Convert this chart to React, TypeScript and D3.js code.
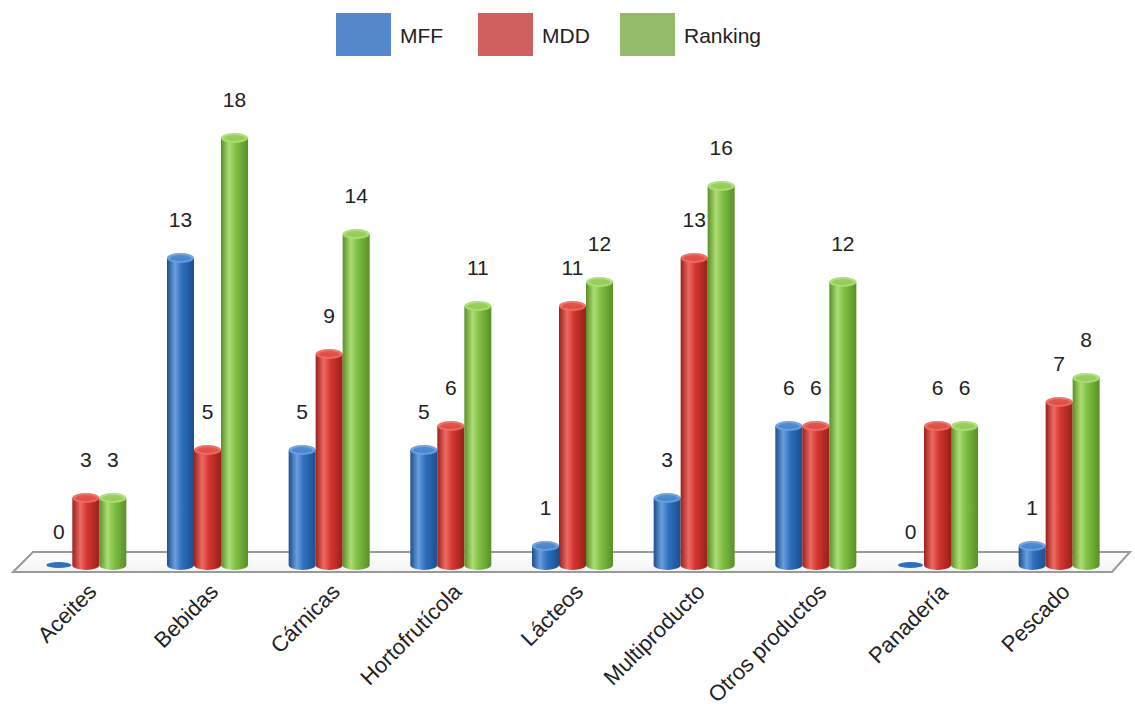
import React from "react";
import * as d3 from "d3";

const categories = ["Aceites", "Bebidas", "Cárnicas", "Hortofrutícola", "Lácteos", "Multiproducto", "Otros productos", "Panadería", "Pescado"];
const seriesNames = ["MFF", "MDD", "Ranking"];
const mff = [0, 13, 5, 5, 1, 3, 6, 0, 1];
const mdd = [3, 5, 9, 6, 11, 13, 6, 6, 7];
const ranking = [3, 18, 14, 11, 12, 16, 12, 6, 8];

const legendColors = ["#5389cb", "#cf605f", "#93bb69"];
// dark edge, base, highlight
const barColors = [
  ["#1c4e8e", "#2e70c0", "#6a9fdd"],
  ["#9a1f1c", "#d4352f", "#ec6b63"],
  ["#5a8f27", "#7ec043", "#addd74"],
];

const W = 1135;
const H = 704;

export default function App() {
  const values = [mff, mdd, ranking];
  const x0 = d3.scaleBand<string>().domain(categories).range([25, 1120]);
  const groupW = 81;
  const x1 = d3.scaleBand<string>().domain(seriesNames).range([0, groupW]);
  const y = d3.scaleLinear().domain([0, 18]).range([565, 133]);
  const bw = x1.bandwidth();
  const ry = 5;
  const pad = (x0.bandwidth() - groupW) / 2;

  const floorTop = y(0) - 13;
  const floorBot = y(0) + 7;
  const fl = x0.range()[0] - 12;
  const fr = x0.range()[1] + 10;
  const floor = [
    [fl, floorBot],
    [fl + 20, floorTop],
    [fr, floorTop],
    [fr - 18, floorBot],
  ];

  return (
    <svg width={W} height={H} style={{ display: "block", position: "absolute", left: 0, top: 0 }} fontFamily="'Liberation Sans', Arial, sans-serif">
      <defs>
        {barColors.map((c, i) => (
          <linearGradient id={"cyl" + i} key={i} x1="0" x2="1" y1="0" y2="0">
            <stop offset="0" stopColor={c[0]} />
            <stop offset="0.3" stopColor={c[2]} />
            <stop offset="0.55" stopColor={c[1]} />
            <stop offset="1" stopColor={c[0]} />
          </linearGradient>
        ))}
        <linearGradient id="floorG" x1="0" x2="0" y1="0" y2="1">
          <stop offset="0" stopColor="#ffffff" />
          <stop offset="1" stopColor="#f4f4f4" />
        </linearGradient>
      </defs>
      <rect width={W} height={H} fill="#fff" />

      {/* legend */}
      {seriesNames.map((s, i) => (
        <g key={s} transform={`translate(${336 + i * 142},13)`}>
          <rect width={55} height={43} fill={legendColors[i]} />
          <text x={64} y={30} fontSize={21} fill="#222">{s}</text>
        </g>
      ))}

      {/* floor */}
      <polygon points={floor.map((p) => p.join(",")).join(" ")} fill="url(#floorG)" stroke="#9a9a9a" strokeWidth={2} />

      {/* bars */}
      {categories.map((c, ci) => (
        <g key={c}>
          {seriesNames.map((s, si) => {
            const v = values[si][ci];
            const bx = (x0(c) as number) + pad + (x1(s) as number);
            const cx = bx + bw / 2;
            const top = y(v);
            const base = y(0);
            const col = barColors[si];
            return (
              <g key={s}>
                {v > 0 ? (
                  <>
                    <path
                      d={`M${bx},${top + ry} L${bx},${base} A${bw / 2},${ry} 0 0 0 ${bx + bw},${base} L${bx + bw},${top + ry} Z`}
                      fill={`url(#cyl${si})`}
                    />
                    <ellipse cx={cx} cy={top + ry} rx={bw / 2} ry={ry} fill={col[2]} opacity={0.95} />
                    <ellipse cx={cx} cy={top + ry} rx={bw / 2 - 3} ry={ry - 2} fill={col[1]} opacity={0.5} />
                  </>
                ) : (
                  <ellipse cx={cx} cy={base} rx={bw / 2 - 1} ry={3} fill={col[1]} />
                )}
                <text x={cx} y={top - 26} textAnchor="middle" fontSize={21} fill="#222">{v}</text>
              </g>
            );
          })}
          <text
            transform={`translate(${(x0(c) as number) + x0.bandwidth() / 2 + 12},${y(0) + 28}) rotate(-45)`}
            textAnchor="end"
            fontSize={22}
            fill="#222"
          >
            {c}
          </text>
        </g>
      ))}
    </svg>
  );
}
